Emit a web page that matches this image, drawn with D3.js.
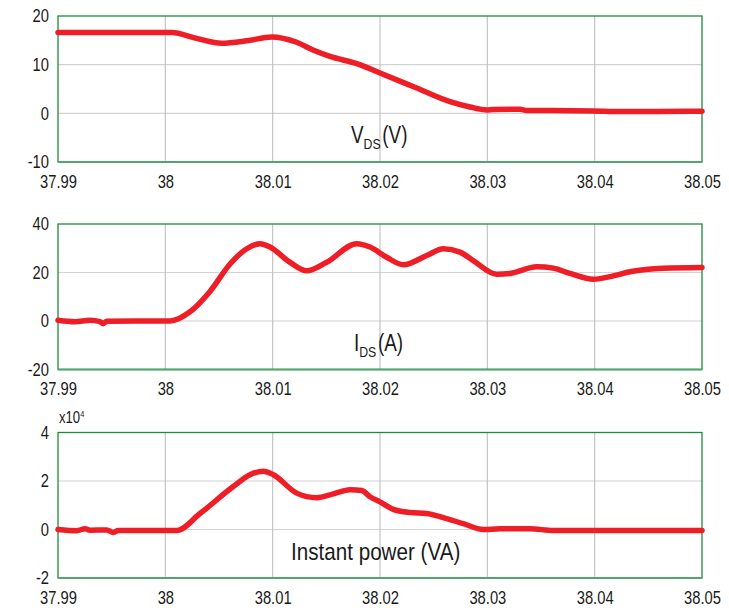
<!DOCTYPE html>
<html><head><meta charset="utf-8">
<script src="https://cdn.jsdelivr.net/npm/d3@7"></script>
<style>
body{margin:0;background:#fff;}
text{font-family:"Liberation Sans",Arial,sans-serif;fill:#1a1a1a;}
</style></head><body>
<svg id="c" width="729" height="608"></svg>
<script>
const xTicks = [37.99, 38, 38.01, 38.02, 38.03, 38.04, 38.05];
const xTickLabels = ["37.99", "38", "38.01", "38.02", "38.03", "38.04", "38.05"];

const vdsTicks = [-10, 0, 10, 20];
const vdsTime = [37.99, 38.0006, 38.0029, 38.00525, 38.00758, 38.00991, 38.01224, 38.01376, 38.01534, 38.01783, 38.02, 38.02342, 38.02652, 38.02839, 38.02994, 38.03056, 38.03305, 38.03367, 38.03985, 38.04236, 38.05];
const vdsValues = [16.6, 16.6, 15.4, 14.4, 14.9, 15.7, 14.6, 13.0, 11.7, 10.2, 8.3, 5.2, 2.4, 1.3, 0.7, 0.8, 0.85, 0.6, 0.5, 0.37, 0.45];

const idsTicks = [-20, 0, 20, 40];
const idsTime = [37.99, 37.99158, 37.99298, 37.99391, 37.99422, 37.99454, 38.00044, 38.0023, 38.00416, 38.00603, 38.00758, 38.00882, 38.00975, 38.01162, 38.01317, 38.01503, 38.01783, 38.01907, 38.02062, 38.02217, 38.02435, 38.0259, 38.02745, 38.02869, 38.03087, 38.03211, 38.0346, 38.03615, 38.0377, 38.03988, 38.04174, 38.04329, 38.0464, 38.05];
const idsValues = [0.3, -0.3, 0.3, -0.3, -1.1, -0.1, 0, 3.8, 12.2, 23.5, 29.8, 31.9, 30.5, 24.2, 20.7, 24.2, 31.9, 30.5, 26.3, 23.2, 27.0, 29.8, 28.4, 24.9, 19.3, 19.6, 22.4, 21.8, 19.6, 17.2, 18.6, 20.3, 21.8, 22.1];

const powTicks = [-2, 0, 2, 4];
const powTime = [37.99, 37.99174, 37.99252, 37.99298, 37.99454, 37.99515, 37.99562, 38.00106, 38.00323, 38.00633, 38.00789, 38.00913, 38.01006, 38.01224, 38.0141, 38.01565, 38.01721, 38.0183, 38.01907, 38.02, 38.02124, 38.0228, 38.02435, 38.0259, 38.02776, 38.02963, 38.03118, 38.03398, 38.03612, 38.05];
const powValues = [0, -0.05, 0.03, -0.03, -0.02, -0.12, -0.04, -0.04, 0.66, 1.77, 2.26, 2.4, 2.26, 1.5, 1.31, 1.47, 1.64, 1.61, 1.35, 1.14, 0.83, 0.7, 0.66, 0.49, 0.24, 0, 0.03, 0.03, -0.04, -0.04];

const svg = d3.select("#c");
const left = 58, right = 702;
const K = 0.82;
const x = d3.scaleLinear().domain([37.99, 38.05]).range([left, right]);

function condense(sel, ax, k) {
  const kk = k || K;
  sel.each(function() {
    const el = d3.select(this);
    const xa = ax != null ? ax : (+el.attr("x") || 0);
    el.attr("transform", `translate(${xa},0) scale(${kk},1) translate(${-xa},0)`);
  });
}

const panels = [
  {top: 16, bottom: 162, ticks: vdsTicks, t: vdsTime, v: vdsValues, label: "V", sub: "DS", unit: "(V)", lx: 351, ly: 143, fs: 23, k: 0.82},
  {top: 224, bottom: 369.5, ticks: idsTicks, t: idsTime, v: idsValues, label: "I", sub: "DS", unit: "(A)", lx: 354, ly: 351, fs: 23, k: 0.82},
  {top: 432.5, bottom: 578, ticks: powTicks, t: powTime, v: powValues, label: "Instant power (VA)", lx: 291, ly: 560, exp: true, fs: 24, k: 0.86}
];

panels.forEach(p => {
  const y = d3.scaleLinear().domain([p.ticks[0], p.ticks[p.ticks.length-1]]).range([p.bottom, p.top]);
  const g = svg.append("g");
  g.selectAll(".hg").data(p.ticks.slice(1, -1)).join("line")
    .attr("x1", left).attr("x2", right)
    .attr("y1", d => y(d)).attr("y2", d => y(d))
    .attr("stroke", "#d2d2d2").attr("stroke-width", 1.2);
  g.selectAll(".vg").data(xTicks.slice(1, -1)).join("line")
    .attr("x1", d => x(d)).attr("x2", d => x(d))
    .attr("y1", p.top).attr("y2", p.bottom)
    .attr("stroke", "#c4c4c4").attr("stroke-width", 1.2);
  g.append("rect").attr("x", left).attr("y", p.top).attr("width", right-left).attr("height", p.bottom-p.top)
    .attr("fill", "none").attr("stroke", "#1e8a3e").attr("stroke-width", 1.3);
  g.append("line").attr("x1", left).attr("x2", right).attr("y1", p.bottom).attr("y2", p.bottom)
    .attr("stroke", "#52a66e").attr("stroke-width", 2.2);
  const yAxis = d3.axisLeft(y).tickValues(p.ticks).tickSize(0).tickPadding(9).tickFormat(d => String(d));
  const ya = g.append("g").attr("transform", `translate(${left},0)`).call(yAxis);
  ya.select(".domain").remove();
  ya.selectAll("text").style("font-size", "18px").attr("fill", "#1a1a1a")
    .style("font-family", '"Liberation Sans",Arial,sans-serif');
  condense(ya.selectAll("text"));
  const xAxis = d3.axisBottom(x).tickValues(xTicks).tickSize(0).tickPadding(13).tickFormat((d, i) => xTickLabels[i]);
  const xa = g.append("g").attr("transform", `translate(0,${p.bottom})`).call(xAxis);
  xa.select(".domain").remove();
  xa.selectAll("text").style("font-size", "18px").attr("fill", "#1a1a1a")
    .style("font-family", '"Liberation Sans",Arial,sans-serif');
  condense(xa.selectAll("text"), 0);
  const data = p.t.map((t, i) => [t, p.v[i]]);
  const line = d3.line().x(d => x(d[0])).y(d => y(d[1])).curve(d3.curveMonotoneX);
  g.append("path").datum(data).attr("d", line).attr("fill", "none")
    .attr("stroke", "#ee1d26").attr("stroke-width", 5.5).attr("stroke-linejoin", "round").attr("stroke-linecap", "round");
  const txt = g.append("text").attr("x", p.lx).attr("y", p.ly).style("font-size", p.fs + "px");
  txt.append("tspan").text(p.label);
  if (p.sub) {
    txt.append("tspan").attr("dy", 6).style("font-size", "15px").text(p.sub);
    txt.append("tspan").attr("dy", -6).attr("dx", 2).text(p.unit);
  }
  condense(txt, p.lx, p.k);
  if (p.exp) {
    const e = g.append("text").attr("x", 59).attr("y", 423).style("font-size", "16px");
    e.append("tspan").text("x10");
    e.append("tspan").attr("dy", -6).style("font-size", "9px").text("4");
    condense(e, 59);
  }
});
</script></body></html>
